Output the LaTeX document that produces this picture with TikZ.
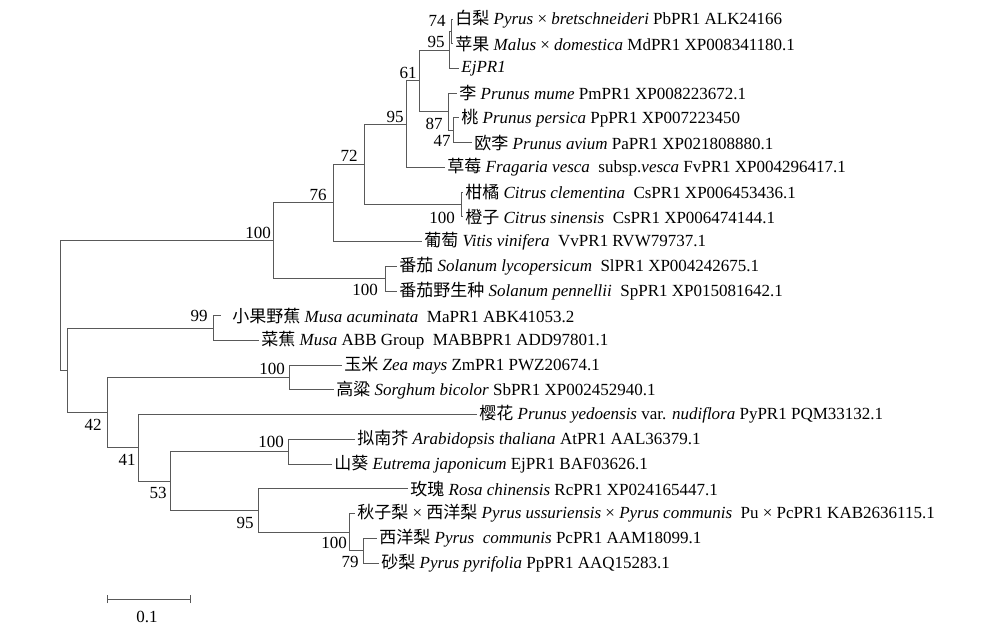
\documentclass[tikz,border=0pt]{standalone}
\usepackage{fontspec}
\setmainfont{Liberation Serif}
\newfontfamily\cjk{Noto Sans CJK SC}
\newcommand\zh[1]{{\cjk #1}}
\tikzset{
  branch/.style={draw=black!65, line width=0.5pt},
  leaf/.style={anchor=west, inner sep=1pt, font=\fontsize{8.5}{10}\selectfont},
  boot/.style={inner sep=0pt, font=\fontsize{8.5}{10}\selectfont}
}
\begin{document}
\begin{tikzpicture}[x=0.5pt, y=-0.5pt]
  \useasboundingbox (0,0) rectangle (1000,643);
  \coordinate (root) at (60,305.7);
  \coordinate (nB) at (67,370.5);
  \coordinate (n100a) at (273,240.8);
  \coordinate (n76) at (333,202.9);
  \coordinate (n72) at (364,164.3);
  \coordinate (n95b) at (406,124.1);
  \coordinate (n61) at (419,80.9);
  \coordinate (n95a) at (449,50.0);
  \coordinate (n74) at (451,31.4);
  \coordinate (n87) at (448,111.7);
  \coordinate (n47) at (453,130.3);
  \coordinate (ncit) at (461,204.5);
  \coordinate (ntom) at (385,278.7);
  \coordinate (nmusa) at (213,328.1);
  \coordinate (n42) at (107,412.8);
  \coordinate (nmaize) at (289,377.6);
  \coordinate (n41) at (138,447.9);
  \coordinate (n53) at (170,481.2);
  \coordinate (narab) at (288,451.8);
  \coordinate (n95c) at (258,510.5);
  \coordinate (npear) at (349,532.1);
  \coordinate (n79) at (363,550.7);

  \node[leaf] (l1) at (453,19.0) {\zh{白梨} \textit{Pyrus} × \textit{bretschneideri} PbPR1 ALK24166};
  \node[leaf] (l2) at (453,43.7) {\zh{苹果} \textit{Malus} × \textit{domestica} MdPR1 XP008341180.1};
  \node[leaf] (l3) at (459,68.5) {\textit{EjPR1}};
  \node[leaf] (l4) at (457,93.2) {\zh{李} \textit{Prunus mume} PmPR1 XP008223672.1};
  \node[leaf] (l5) at (459,117.9) {\zh{桃} \textit{Prunus persica} PpPR1 XP007223450};
  \node[leaf] (l6) at (472,142.6) {\zh{欧李} \textit{Prunus avium} PaPR1 XP021808880.1};
  \node[leaf] (l7) at (445,167.4) {\zh{草莓} \textit{Fragaria vesca}~ subsp.\textit{vesca} FvPR1 XP004296417.1};
  \node[leaf] (l8) at (463,192.1) {\zh{柑橘} \textit{Citrus clementina}~ CsPR1 XP006453436.1};
  \node[leaf] (l9) at (463,216.8) {\zh{橙子} \textit{Citrus sinensis}~ CsPR1 XP006474144.1};
  \node[leaf] (l10) at (422,241.5) {\zh{葡萄} \textit{Vitis vinifera}~ VvPR1 RVW79737.1};
  \node[leaf] (l11) at (397,266.3) {\zh{番茄} \textit{Solanum lycopersicum}~ SlPR1 XP004242675.1};
  \node[leaf] (l12) at (397,291.0) {\zh{番茄野生种} \textit{Solanum pennellii}~ SpPR1 XP015081642.1};
  \node[leaf] (l13) at (230,315.7) {\zh{小果野蕉} \textit{Musa acuminata}~ MaPR1 ABK41053.2};
  \node[leaf] (l14) at (259,340.5) {\zh{菜蕉} \textit{Musa} ABB Group~ MABBPR1 ADD97801.1};
  \node[leaf] (l15) at (342,365.2) {\zh{玉米} \textit{Zea mays} ZmPR1 PWZ20674.1};
  \node[leaf] (l16) at (334,389.9) {\zh{高粱} \textit{Sorghum bicolor} SbPR1 XP002452940.1};
  \node[leaf] (l17) at (477,414.6) {\zh{樱花} \textit{Prunus yedoensis} var. \textit{nudiflora} PyPR1 PQM33132.1};
  \node[leaf] (l18) at (355,439.4) {\zh{拟南芥} \textit{Arabidopsis thaliana} AtPR1 AAL36379.1};
  \node[leaf] (l19) at (332,464.1) {\zh{山葵} \textit{Eutrema japonicum} EjPR1 BAF03626.1};
  \node[leaf] (l20) at (408,488.8) {\zh{玫瑰} \textit{Rosa chinensis} RcPR1 XP024165447.1};
  \node[leaf] (l21) at (355,513.5) {\zh{秋子梨} × \zh{西洋梨} \textit{Pyrus ussuriensis} × \textit{Pyrus communis}~ Pu × PcPR1 KAB2636115.1};
  \node[leaf] (l22) at (377,538.3) {\zh{西洋梨} \textit{Pyrus~ communis} PcPR1 AAM18099.1};
  \node[leaf] (l23) at (379,563.0) {\zh{砂梨} \textit{Pyrus pyrifolia} PpPR1 AAQ15283.1};

  \begin{scope}[branch]
    \draw (root) |- (n100a);
    \draw (root) |- (nB);
    \draw (n100a) |- (n76);
    \draw (n100a) |- (ntom);
    \draw (n76) |- (n72);
    \draw (n76) |- (l10.west);
    \draw (n72) |- (n95b);
    \draw (n72) |- (ncit);
    \draw (n95b) |- (n61);
    \draw (n95b) |- (l7.west);
    \draw (n61) |- (n95a);
    \draw (n61) |- (n87);
    \draw (n95a) |- (n74);
    \draw (n95a) |- (l3.west);
    \draw (n74) |- (l1.west);
    \draw (n74) |- (l2.west);
    \draw (n87) |- (l4.west);
    \draw (n87) |- (n47);
    \draw (n47) |- (l5.west);
    \draw (n47) |- (l6.west);
    \draw (ncit) |- (l8.west);
    \draw (ncit) |- (l9.west);
    \draw (ntom) |- (l11.west);
    \draw (ntom) |- (l12.west);
    \draw (nB) |- (nmusa);
    \draw (nB) |- (n42);
    \draw (nmusa) |- ([xshift=-4.5pt]l13.west);
    \draw (nmusa) |- (l14.west);
    \draw (n42) |- (nmaize);
    \draw (n42) |- (n41);
    \draw (nmaize) |- (l15.west);
    \draw (nmaize) |- (l16.west);
    \draw (n41) |- (l17.west);
    \draw (n41) |- (n53);
    \draw (n53) |- (narab);
    \draw (n53) |- (n95c);
    \draw (narab) |- (l18.west);
    \draw (narab) |- (l19.west);
    \draw (n95c) |- (l20.west);
    \draw (n95c) |- (npear);
    \draw (npear) |- (l21.west);
    \draw (npear) |- (n79);
    \draw (n79) |- (l22.west);
    \draw (n79) |- (l23.west);
  \end{scope}

  \node[boot] (b100a) at (258,233) {100};
  \node[boot] (b76) at (318,195) {76};
  \node[boot] (b72) at (349,156) {72};
  \node[boot] (b95b) at (395,117) {95};
  \node[boot] (b61) at (408,73) {61};
  \node[boot] (b74) at (437,21) {74};
  \node[boot] (b95a) at (436,42) {95};
  \node[boot] (b87) at (434,124) {87};
  \node[boot] (b47) at (442,141) {47};
  \node[boot] (bcit) at (442,218) {100};
  \node[boot] (btom) at (365,290) {100};
  \node[boot] (bmusa) at (199,316) {99};
  \node[boot] (bmaize) at (272,369) {100};
  \node[boot] (b42) at (93,425) {42};
  \node[boot] (b41) at (127,460) {41};
  \node[boot] (b53) at (158,493) {53};
  \node[boot] (barab) at (271,442) {100};
  \node[boot] (b95c) at (245,523) {95};
  \node[boot] (bpear) at (334,543) {100};
  \node[boot] (b79) at (350,562) {79};

  \coordinate (s1) at (107,599);
  \coordinate (s2) at (190,599);
  \draw[branch] (s1) -- (s2);
  \draw[branch] ([yshift=-2pt]s1) -- ([yshift=2pt]s1);
  \draw[branch] ([yshift=-2pt]s2) -- ([yshift=2pt]s2);
  \node[boot] (scale) at (147,617) {0.1};
\end{tikzpicture}
\end{document}
